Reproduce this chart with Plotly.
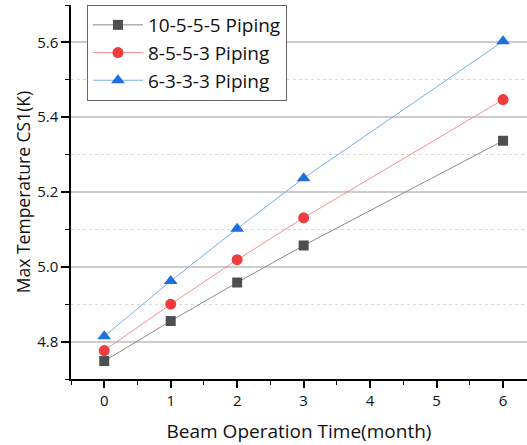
import plotly.graph_objects as go

months = [0, 1, 2, 3, 6]
piping_10555 = [4.748, 4.855, 4.958, 5.057, 5.337]
piping_8553 = [4.776, 4.900, 5.019, 5.131, 5.447]
piping_6333 = [4.814, 4.962, 5.102, 5.237, 5.603]

series = [
    ("10-5-5-5 Piping", piping_10555, "#4f4f4f", "#8a8a8a", "square", 10),
    ("8-5-5-3 Piping", piping_8553, "#f03c3c", "#f59090", "circle", 11),
    ("6-3-3-3 Piping", piping_6333, "#1f6fe0", "#7aaaf0", "triangle-up", 12),
]

fig = go.Figure()
for name, ys, mc, lc, sym, sz in series:
    fig.add_trace(go.Scatter(
        x=months, y=ys, name=name, mode="lines+markers",
        line=dict(color=lc, width=1),
        marker=dict(color=mc, symbol=sym, size=sz),
    ))

font = "Open Sans"
fig.update_layout(
    width=527, height=445,
    margin=dict(l=71, r=0, t=5, b=66),
    plot_bgcolor="white", paper_bgcolor="white",
    font=dict(family=font, size=15, color="#111"),
    showlegend=True,
    legend=dict(
        x=0.035, y=1, xanchor="left", yanchor="top",
        bgcolor="white", bordercolor="#666", borderwidth=1,
        font=dict(size=19, color="#111", family=font),
        tracegroupgap=0, itemwidth=50,
    ),
    xaxis=dict(
        range=[-0.5, 6.36], tickmode="array", tickvals=[0, 1, 2, 3, 4, 5, 6],
        showgrid=False, zeroline=False,
        showline=True, linecolor="black", linewidth=1.5,
        ticks="outside", ticklen=7, tickwidth=1.5, tickcolor="black",
        minor=dict(dtick=0.5, tick0=-0.5, ticks="outside", ticklen=4, tickcolor="black", tickwidth=1),
        title=dict(text="Beam Operation Time(month)", font=dict(size=19), standoff=16),
        tickfont=dict(size=15),
    ),
    yaxis=dict(
        range=[4.7, 5.7], tickmode="array", tickvals=[4.8, 5.0, 5.2, 5.4, 5.6],
        ticktext=["4.8", "5.0", "5.2", "5.4", "5.6"],
        showgrid=True, gridcolor="#cccccc", gridwidth=1.5, zeroline=False,
        showline=True, linecolor="black", linewidth=1.5,
        ticks="outside", ticklen=8, tickwidth=1.5, tickcolor="black",
        minor=dict(dtick=0.1, tick0=4.7, ticks="outside", ticklen=4, tickcolor="black", tickwidth=1,
                   showgrid=True, gridcolor="#d8d8d8", griddash="dot", gridwidth=1),
        title=dict(text="Max Temperature CS1(K)", font=dict(size=17.5), standoff=2),
        tickfont=dict(size=15),
    ),
)

fig.write_html("out.html")
